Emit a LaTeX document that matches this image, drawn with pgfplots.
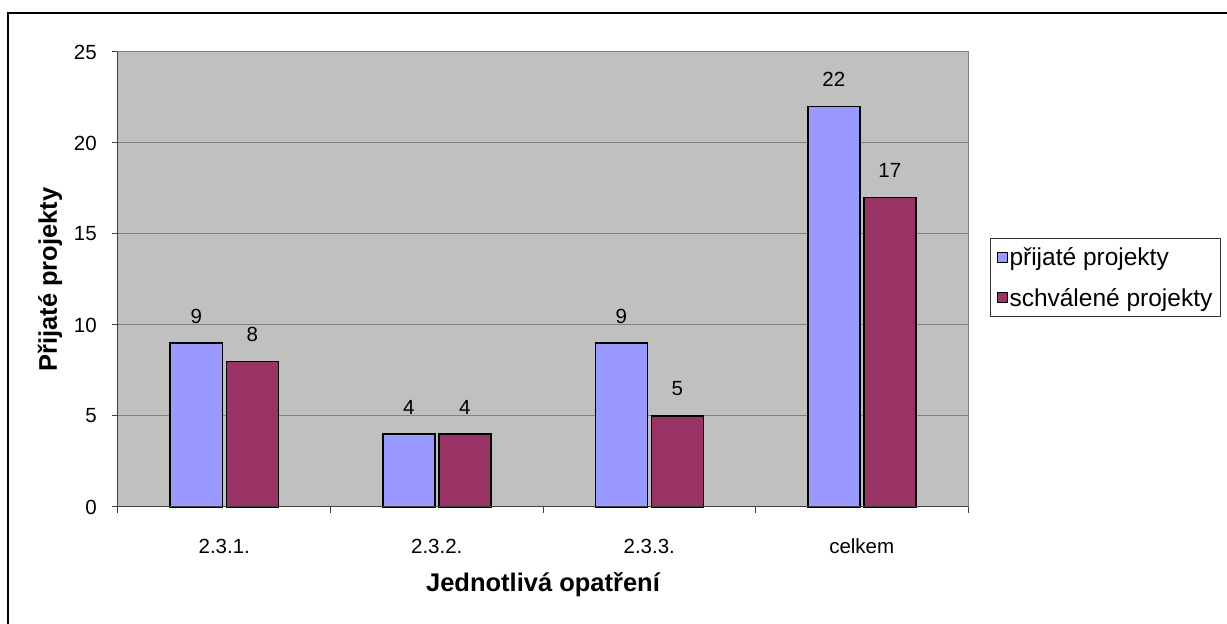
\documentclass[border=0pt]{standalone}
\usepackage{fontspec}
\setmainfont{Liberation Sans}
\usepackage{pgfplots}
\pgfplotsset{compat=1.18}
\definecolor{barblue}{HTML}{9999FF}
\definecolor{barpurple}{HTML}{993366}
\definecolor{plotbg}{HTML}{C0C0C0}
\definecolor{gridc}{HTML}{808080}
\begin{document}
\begin{tikzpicture}[x=1pt,y=1pt]
\useasboundingbox (0,0) rectangle (1227,624);
\fill[white] (0,0) rectangle (1227,624);
\draw[black, line width=2pt] (7.5,-5) -- (7.5,610.7) -- (1240,610.7);
\begin{axis}[
  at={(118pt,117pt)}, anchor=south west,
  scale only axis, width=850pt, height=455pt,
  xmin=-0.5, xmax=3.5, ymin=0, ymax=25,
  clip=false,
  ybar=4pt, bar width=52pt,
  axis background/.style={fill=plotbg},
  axis line style={draw=gridc, line width=1pt},
  ytick={0,5,...,25},
  ymajorgrids, grid style={draw=gridc, line width=1pt},
  xtick={-0.5,0.5,1.5,2.5,3.5}, xticklabels={},
  extra x ticks={0,1,2,3},
  extra x tick labels={2.3.1.,2.3.2.,2.3.3.,celkem},
  extra x tick style={major tick length=0pt, grid=none},
  xtick pos=bottom, ytick pos=left,
  tick align=outside, major tick length=6pt,
  tick style={draw=black!75, line width=1pt},
  tick label style={font=\fontsize{20.5}{24}\selectfont},
  /pgf/number format/assume math mode=true,
  yticklabel style={anchor=east, inner sep=0pt, xshift=-15pt},
  xticklabel style={anchor=base, inner sep=0pt, yshift=-47pt},
  nodes near coords,
  nodes near coords style={font=\fontsize{20.5}{24}\selectfont, anchor=base, yshift=20pt, text=black, inner sep=0pt},
  ylabel={Přijaté projekty},
  ylabel style={font=\fontsize{25.5}{30}\selectfont\bfseries, at={(axis description cs:-0.0718,0.5)}, anchor=base, inner sep=0pt},
  xlabel={Jednotlivá opatření},
  xlabel style={font=\fontsize{25.5}{30}\selectfont\bfseries, at={(axis description cs:0.5,-0.1868)}, anchor=base, inner sep=0pt},
  legend style={at={(rel axis cs:1.02588,0.59121)}, anchor=north west, draw=black!80, line width=1pt, fill=white, font=\fontsize{24.5}{28}\selectfont, inner xsep=6pt, inner ysep=7pt, row sep=17pt},
  legend cell align=left,
  legend image code/.code={\draw[#1, line width=1pt] (0pt,-5pt) rectangle (10pt,5pt);},
]
\addplot[fill=barblue, draw=black, line width=1.5pt] coordinates {(0,9) (1,4) (2,9) (3,22)};
\addplot[fill=barpurple, draw=black, line width=1.5pt] coordinates {(0,8) (1,4) (2,5) (3,17)};
\legend{přijaté projekty, schválené projekty}
\draw[black!75, line width=1pt] (rel axis cs:0,1) -- (rel axis cs:0,0) -- (rel axis cs:1,0);
\end{axis}
\end{tikzpicture}
\end{document}
